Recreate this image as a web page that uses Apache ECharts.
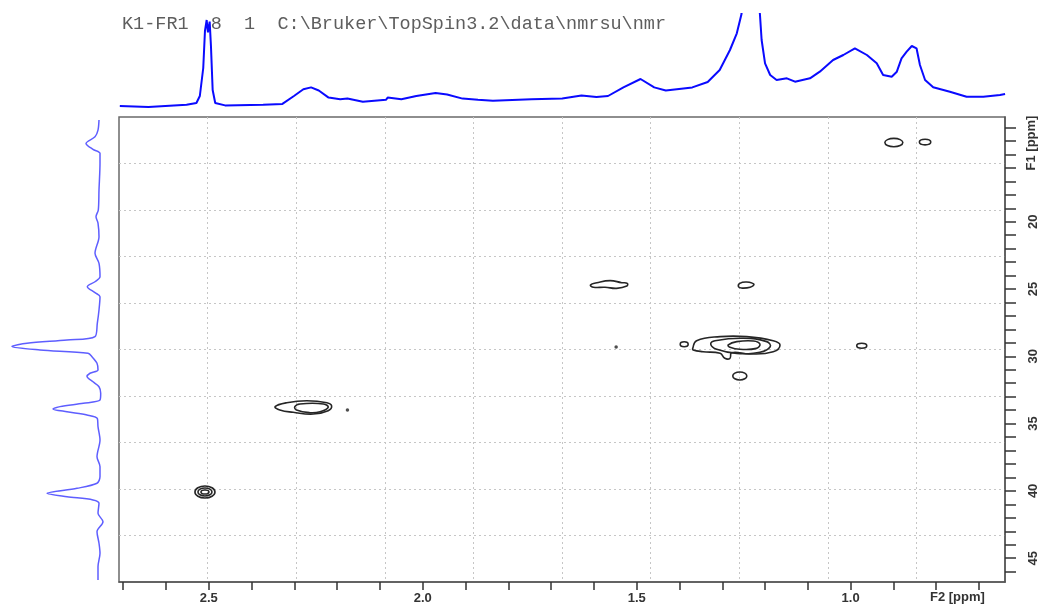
<!DOCTYPE html>
<html>
<head>
<meta charset="utf-8">
<script src="https://cdn.jsdelivr.net/npm/echarts@6/dist/echarts.min.js"></script>
<style>
html, body { margin: 0; padding: 0; background: #fff; }
#chart { width: 1053px; height: 608px; }
</style>
</head>
<body>
<div id="chart"></div>
<script>
// Visible spectral window (ppm)
const f2Range = [0.6392, 2.7099];   // 1H, F2
const f1Range = [12.22, 46.77];     // 13C, F1

// Axis ticks
const f2LabelTicks = [2.5, 2.0, 1.5, 1.0];
const f2MinorTicks = [2.7, 2.6, 2.5, 2.4, 2.3, 2.2, 2.1, 2.0, 1.9, 1.8, 1.7, 1.6, 1.5, 1.4, 1.3, 1.2, 1.1, 1.0, 0.9, 0.8, 0.7];
const f1LabelTicks = [20, 25, 30, 35, 40, 45];
const f1MinorTicks = [13, 14, 15, 16, 17, 18, 19, 20, 21, 22, 23, 24, 25, 26, 27, 28, 29, 30, 31, 32, 33, 34, 35, 36, 37, 38, 39, 40, 41, 42, 43, 44, 45, 46];

const headerText = 'K1-FR1  8  1  C:\\Bruker\\TopSpin3.2\\data\\nmrsu\\nmr';

// 1H projection along F2: [ppm, intensity]
const f2Projection = [
  [2.708, 4], [2.641, 3], [2.552, 5.2], [2.529, 7], [2.521, 14], [2.513, 42], [2.509, 79],
  [2.505, 90], [2.502, 77.6], [2.498, 88.4], [2.495, 64], [2.491, 20], [2.485, 7], [2.462, 4.6],
  [2.373, 5.2], [2.328, 6.1], [2.301, 14], [2.279, 20.7], [2.261, 22.6], [2.243, 19.5], [2.220, 12.4],
  [2.193, 10.8], [2.176, 11.4], [2.140, 8.3], [2.086, 10.2], [2.082, 12.4], [2.050, 10.8], [2.015, 14],
  [1.970, 17], [1.943, 15.5], [1.907, 11.4], [1.871, 10.2], [1.836, 9.3], [1.746, 10.8], [1.674, 11.4],
  [1.629, 14.5], [1.594, 13], [1.567, 14], [1.531, 22.6], [1.491, 31], [1.459, 22.6], [1.432, 19.5],
  [1.370, 22.6], [1.334, 28], [1.306, 40], [1.282, 60], [1.266, 76.7], [1.255, 96], [1.245, 130],
  [1.222, 130], [1.212, 96], [1.208, 70], [1.200, 46.7], [1.188, 35], [1.173, 30], [1.149, 31.7],
  [1.130, 28.3], [1.095, 31.7], [1.072, 38.3], [1.041, 50], [1.017, 55], [0.990, 61.7], [0.962, 55],
  [0.939, 46.7], [0.924, 35], [0.904, 33.3], [0.892, 38.3], [0.881, 51.7], [0.869, 58.3], [0.857, 64],
  [0.846, 61.7], [0.838, 45], [0.826, 30], [0.807, 22.7], [0.768, 18.3], [0.729, 13.3], [0.690, 13.3],
  [0.651, 15], [0.639, 16]
];

// 13C projection along F1: [intensity, ppm]
const f1Projection = [
  [-1, 12.44], [0, 13.19], [3, 13.69], [12, 14.18], [5, 14.62], [-2, 14.92], [-2, 15.66], [-1, 17.64],
  [-0.3, 19.13], [2, 19.63], [0, 20.10], [-1, 21.11], [3, 22.35], [-1, 23.09], [-2, 24.09], [3, 24.46],
  [10.7, 24.83], [3, 25.27], [-2, 25.57], [-1, 26.56], [0.7, 27.55], [3, 28.54], [31, 28.79], [71, 29.03],
  [86, 29.27], [58, 29.53], [10, 29.78], [6, 30.03], [1, 30.52], [0, 31.02], [8, 31.26], [11, 31.51],
  [5, 31.89], [-1, 32.26], [-2.7, 32.75], [-2, 33.25], [14.7, 33.49], [38, 33.74], [45, 33.91], [31, 34.12],
  [11, 34.36], [0.7, 34.61], [0, 35.23], [-2, 36.22], [1, 37.46], [-2, 38.20], [-2, 38.94], [1, 39.43],
  [21, 39.81], [51, 40.18], [31, 40.43], [5, 40.67], [-1, 40.92], [0, 41.66], [-5, 42.29], [1, 43.03],
  [-1, 43.89], [-2, 44.63], [0, 45.63], [0, 46.62]
];

// Contour outlines as closed rings of [F2 ppm, F1 ppm]
const contourRings = [
  [[1.369, 29.41], [1.360, 28.84], [1.305, 28.54], [1.243, 28.54], [1.181, 28.84], [1.165, 29.16], [1.181, 29.66],
   [1.235, 29.83], [1.278, 29.73], [1.282, 30.15], [1.294, 30.15], [1.305, 29.78], [1.345, 29.66], [1.368, 29.53]],
  [[1.327, 29.09], [1.317, 28.84], [1.251, 28.66], [1.196, 28.91], [1.188, 29.29], [1.212, 29.70], [1.266, 29.78], [1.313, 29.48]],
  [[1.286, 29.16], [1.266, 28.91], [1.227, 28.86], [1.212, 29.09], [1.220, 29.41], [1.259, 29.48], [1.282, 29.33]],
  [[1.608, 24.70], [1.593, 24.53], [1.562, 24.38], [1.535, 24.53], [1.522, 24.58], [1.523, 24.78], [1.547, 24.95], [1.574, 24.87], [1.601, 24.87]],
  [[1.262, 24.83], [1.259, 24.58], [1.243, 24.48], [1.226, 24.65], [1.235, 24.87], [1.255, 24.93]],
  [[2.345, 33.74], [2.318, 33.45], [2.271, 33.30], [2.224, 33.45], [2.213, 33.69], [2.221, 34.04], [2.256, 34.29], [2.303, 34.16], [2.334, 33.99]],
  [[2.299, 33.74], [2.287, 33.54], [2.232, 33.54], [2.221, 33.79], [2.240, 34.12], [2.264, 34.19], [2.295, 33.99]]
];

// Small oval contours: [F2 ppm, F1 ppm, F2 half-width, F1 half-height]
const contourOvals = [
  [1.389, 29.10, 0.0093, 0.186],
  [1.259, 31.46, 0.0164, 0.297],
  [0.974, 29.22, 0.0117, 0.186],
  [0.899, 14.12, 0.0210, 0.312],
  [0.826, 14.08, 0.0133, 0.208],
  [2.509, 40.08, 0.0234, 0.446],
  [2.509, 40.08, 0.0164, 0.297],
  [2.509, 40.08, 0.0093, 0.149]
];

// Single-point contours
const contourDots = [[2.176, 33.99], [1.548, 29.31]];

const AXIS_FONT = '"Liberation Sans", Arial, sans-serif';
const chart = echarts.init(document.getElementById('chart'), null, { renderer: 'canvas' });

const hidden = { show: false };

chart.setOption({
  animation: false,
  backgroundColor: '#ffffff',
  grid: [
    { left: 119, right: 48, top: 117, bottom: 26, show: true, borderColor: '#6a6a6a', borderWidth: 1.5, outerBoundsMode: 'none', containLabel: false },
    { left: 119, right: 48, top: 14, height: 96, outerBoundsMode: 'none', containLabel: false },
    { left: 0, width: 102, top: 117, bottom: 26, outerBoundsMode: 'none', containLabel: false }
  ],
  xAxis: [
    {
      gridIndex: 0, type: 'value', inverse: true, position: 'bottom',
      min: f2Range[0], max: f2Range[1],
      axisLine: { show: true, onZero: false, lineStyle: { color: '#555', width: 1.5 } },
      axisTick: { show: true, inside: false, length: 8, customValues: f2MinorTicks, lineStyle: { color: '#333', width: 1.5 } },
      axisLabel: {
        show: true, customValues: f2LabelTicks, margin: 10,
        formatter: v => v.toFixed(1),
        color: '#333', fontFamily: AXIS_FONT, fontWeight: 'bold', fontSize: 13
      },
      splitLine: hidden
    },
    {
      gridIndex: 0, type: 'value', position: 'top', min: 0, max: 10, interval: 1,
      axisLine: hidden, axisTick: hidden, axisLabel: hidden,
      splitLine: { show: true, showMinLine: false, showMaxLine: false, lineStyle: { color: '#c6c6c6', width: 1, type: [2, 3] } }
    },
    { gridIndex: 1, type: 'value', inverse: true, min: f2Range[0], max: f2Range[1], show: false },
    { gridIndex: 2, type: 'value', inverse: true, min: -4, max: 98, show: false }
  ],
  yAxis: [
    {
      gridIndex: 0, type: 'value', inverse: true, position: 'right',
      min: f1Range[0], max: f1Range[1],
      axisLine: { show: true, onZero: false, lineStyle: { color: '#555', width: 1.5 } },
      axisTick: { show: true, inside: false, length: 11, customValues: f1MinorTicks, lineStyle: { color: '#333', width: 1.5 } },
      axisLabel: {
        show: true, customValues: f1LabelTicks, rotate: 90, margin: 22,
        color: '#333', fontFamily: AXIS_FONT, fontWeight: 'bold', fontSize: 13
      },
      splitLine: hidden
    },
    {
      gridIndex: 0, type: 'value', position: 'left', inverse: true, min: 0, max: 10, interval: 1,
      axisLine: hidden, axisTick: hidden, axisLabel: hidden,
      splitLine: { show: true, showMinLine: false, showMaxLine: false, lineStyle: { color: '#c6c6c6', width: 1, type: [2, 3] } }
    },
    { gridIndex: 1, type: 'value', min: 0, max: 96, show: false },
    { gridIndex: 2, type: 'value', inverse: true, min: f1Range[0], max: f1Range[1], show: false }
  ],
  graphic: [
    {
      type: 'text', left: 122, top: 15, silent: true,
      style: { text: headerText, fill: '#5e5e5e', font: 'normal 18.5px "Liberation Mono", "Courier New", monospace' }
    },
    {
      type: 'text', left: 930, top: 591, silent: true,
      style: { text: 'F2 [ppm]', fill: '#333', font: 'bold 13px ' + AXIS_FONT }
    },
    {
      type: 'text', x: 1031, y: 143, rotation: Math.PI / 2, silent: true,
      style: { text: 'F1 [ppm]', fill: '#333', font: 'bold 13px ' + AXIS_FONT, align: 'center', verticalAlign: 'middle' }
    }
  ],
  series: [
    {
      name: 'F2 projection', type: 'line', xAxisIndex: 2, yAxisIndex: 2,
      data: f2Projection, showSymbol: false, clip: true, smooth: false,
      lineStyle: { color: '#0a0aff', width: 2 }
    },
    {
      name: 'F1 projection', type: 'line', xAxisIndex: 3, yAxisIndex: 3,
      data: f1Projection, showSymbol: false, clip: false, smooth: 0.3,
      lineStyle: { color: 'rgba(40,40,255,0.75)', width: 1.5 }
    },
    {
      name: 'contours', type: 'custom', xAxisIndex: 0, yAxisIndex: 0, clip: true,
      data: contourRings.map((ring, i) => [ring[0][0], ring[0][1], i]),
      renderItem: function (params, api) {
        const ring = contourRings[params.dataIndex];
        return {
          type: 'polygon',
          shape: { points: ring.map(p => api.coord(p)), smooth: 0.45 },
          style: { fill: 'none', stroke: '#262626', lineWidth: 1.6 }
        };
      }
    },
    {
      name: 'oval contours', type: 'custom', xAxisIndex: 0, yAxisIndex: 0, clip: true,
      data: contourOvals,
      renderItem: function (params, api) {
        const c = api.coord([api.value(0), api.value(1)]);
        const ex = api.coord([api.value(0) - api.value(2), api.value(1)]);
        const ey = api.coord([api.value(0), api.value(1) + api.value(3)]);
        const rx = Math.abs(ex[0] - c[0]);
        const ry = Math.abs(ey[1] - c[1]);
        return {
          type: 'ellipse',
          shape: { cx: c[0], cy: c[1], rx: rx, ry: ry },
          style: { fill: 'none', stroke: '#262626', lineWidth: 1.6 }
        };
      }
    },
    {
      name: 'dots', type: 'scatter', xAxisIndex: 0, yAxisIndex: 0,
      data: contourDots, symbolSize: 3.5, itemStyle: { color: '#222' }
    }
  ]
});
</script>
</body>
</html>
